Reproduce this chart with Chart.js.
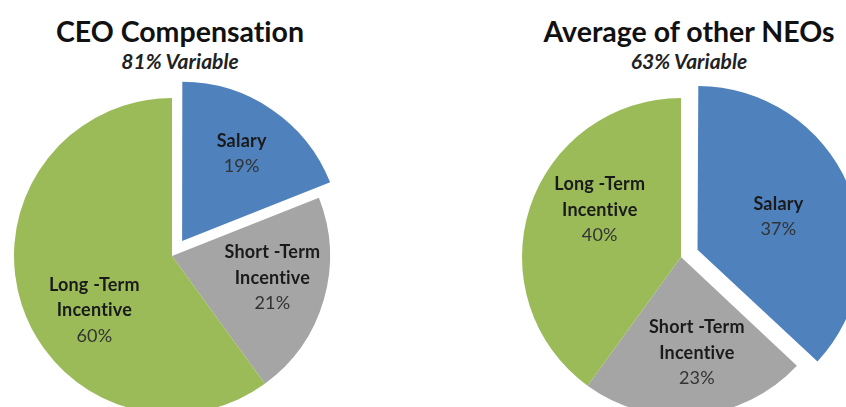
<!DOCTYPE html>
<html>
<head>
<meta charset="utf-8">
<script src="https://cdn.jsdelivr.net/npm/chart.js@4.4.1/dist/chart.umd.min.js"></script>
<style>
  html, body { margin: 0; padding: 0; background: #fff; }
  body { width: 846px; height: 407px; position: relative; overflow: hidden; font-family: Lato, "Open Sans", sans-serif; font-variant-ligatures: none; }
  .title { position: absolute; width: 380px; text-align: center; color: #111; }
  .title h1 { margin: 0; font-size: 28.5px; font-weight: 700; line-height: 30px; }
  .title h2 { margin: 0; font-size: 21px; font-weight: 700; font-style: italic; line-height: 30px; color: #222; }
  .pie { position: absolute; width: 400px; height: 400px; }
</style>
</head>
<body>
<div class="title" id="ceoTitle" style="left: -10px; top: 16px;"><h1></h1><h2></h2></div>
<div class="title" id="neoTitle" style="left: 499px; top: 16px;"><h1></h1><h2></h2></div>
<div class="pie" style="left: -28px; top: 56px;"><canvas id="ceoChart"></canvas></div>
<div class="pie" style="left: 481px; top: 57px;"><canvas id="neoChart"></canvas></div>
<script>
  const categories = ['Salary', 'Short -Term Incentive', 'Long -Term Incentive'];
  const labelLines = [['Salary'], ['Short -Term', 'Incentive'], ['Long -Term', 'Incentive']];
  const ceoShares = [19, 21, 60];
  const neoShares = [37, 23, 40];
  const ceoTitle = 'CEO Compensation';
  const ceoSubtitle = '81% Variable';
  const neoTitle = 'Average of other NEOs';
  const neoSubtitle = '63% Variable';

  const colors = ['#4f81bd', '#a5a5a5', '#9bbb59'];

  // draws the name lines (bold) and the percent inside each slice
  const sliceLabels = {
    id: 'sliceLabels',
    afterDatasetsDraw(chart, args, opts) {
      const ctx = chart.ctx;
      const meta = chart.getDatasetMeta(0);
      const values = chart.data.datasets[0].data;
      meta.data.forEach((arc, i) => {
        const place = opts.place[i];
        const mid = (arc.startAngle + arc.endAngle) / 2;
        const shift = (arc.options.offset || 0) / 4;
        const cx = arc.x + Math.cos(mid) * shift;
        const cy = arc.y + Math.sin(mid) * shift;
        const a = mid + place.turn * Math.PI / 180;
        const r = place.r * arc.outerRadius;
        const x = cx + Math.cos(a) * r;
        const lines = labelLines[i];
        const lineH = 25.5;
        const total = lines.length + 1;
        let y = cy + Math.sin(a) * r - (total - 1) * lineH / 2;
        ctx.save();
        ctx.textAlign = 'center';
        ctx.textBaseline = 'middle';
        if ('letterSpacing' in ctx) ctx.letterSpacing = '0.2px';
        ctx.fillStyle = '#1a1a1a';
        ctx.font = 'bold 18px Lato, "Open Sans", sans-serif';
        lines.forEach((line) => {
          ctx.fillText(line, x, y);
          y += lineH;
        });
        ctx.fillStyle = '#333';
        ctx.font = '18px Lato, "Open Sans", sans-serif';
        ctx.fillText(values[i] + '%', x, y);
        ctx.restore();
      });
    },
  };

  function drawPie(id, shares, radius, place) {
    return new Chart(document.getElementById(id), {
      type: 'pie',
      data: {
        labels: categories,
        datasets: [{
          data: shares,
          backgroundColor: colors,
          borderWidth: 0,
          offset: [72, 0, 0],
        }],
      },
      options: {
        responsive: true,
        maintainAspectRatio: false,
        animation: false,
        events: [],
        radius: radius,
        layout: { padding: 0 },
        plugins: {
          legend: { display: false },
          tooltip: { enabled: false },
          sliceLabels: { place: place },
        },
      },
      plugins: [sliceLabels],
    });
  }

  function setTitle(id, title, subtitle) {
    const el = document.getElementById(id);
    el.querySelector('h1').textContent = title;
    el.querySelector('h2').textContent = subtitle;
  }

  setTitle('ceoTitle', ceoTitle, ceoSubtitle);
  setTitle('neoTitle', neoTitle, neoSubtitle);

  drawPie('ceoChart', ceoShares, 158, [
    { turn: 0, r: 0.67 },
    { turn: -4, r: 0.65 },
    { turn: -17, r: 0.6 },
  ]);
  drawPie('neoChart', neoShares, 159, [
    { turn: 1, r: 0.55 },
    { turn: -4, r: 0.61 },
    { turn: 12, r: 0.59 },
  ]);
</script>
</body>
</html>
